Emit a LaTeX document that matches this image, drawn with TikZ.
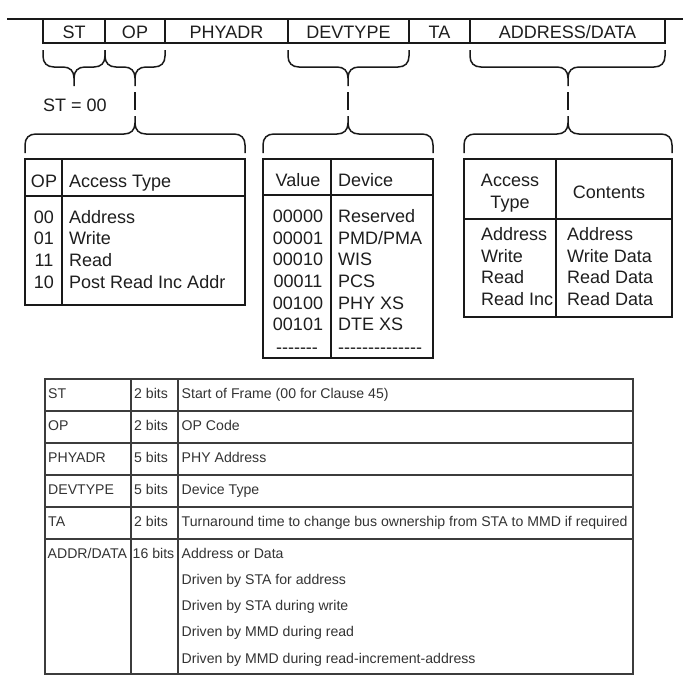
\documentclass[tikz,border=0pt]{standalone}
\usepackage{fontspec}
\setmainfont{Liberation Sans}
\definecolor{tline}{HTML}{3C3C3C}
\definecolor{ttext}{HTML}{333333}
\definecolor{dtext}{HTML}{1E1E1E}
\newcommand{\hy}{\mbox{-}}
\newcommand{\dnbrace}[3]{%
  \draw[brc] (#1,50) -- (#1,56) .. controls (#1,63) and ({#1+4},67) .. ({#1+11},67) -- ({#3-11},67) .. controls ({#3-4},67) and (#3,71) .. (#3,78) -- (#3,86);
  \draw[brc] (#2,50) -- (#2,56) .. controls (#2,63) and ({#2-4},67) .. ({#2-11},67) -- ({#3+11},67) .. controls ({#3+4},67) and (#3,71) .. (#3,78);}
\newcommand{\upbrace}[3]{%
  \draw[brc] (#3,92) -- (#3,110);
  \draw[brc] (#3,116) -- (#3,123) .. controls (#3,130) and ({#3-4},134) .. ({#3-11},134) -- ({#1+11},134) .. controls ({#1+4},134) and (#1,138) .. (#1,145) -- (#1,153);
  \draw[brc] (#3,123) .. controls (#3,130) and ({#3+4},134) .. ({#3+11},134) -- ({#2-11},134) .. controls ({#2-4},134) and (#2,138) .. (#2,145) -- (#2,153);}
\begin{document}
\begin{tikzpicture}[x=1pt,y=-1pt,
  big/.style={font=\fontsize{18}{21}\selectfont, inner sep=0pt, text=dtext, anchor=base},
  bigl/.style={big, anchor=base west},
  sm/.style={font=\fontsize{14.1}{17}\selectfont, inner sep=0pt, text=ttext, anchor=base west},
  frame/.style={line width=1.5pt, draw=black!90},
  brc/.style={line width=1.5pt, draw=black!90},
  tab/.style={line width=1.7pt, draw=black!90},
  btab/.style={line width=1.6pt, draw=tline}]
\useasboundingbox[fill=white] (0,0) rectangle (687,688);

% ---- frame fields ----
\draw[frame] (7,19) -- (683,19);
\draw[frame] (43,19) -- (43,43) -- (665,43) -- (665,19);
\foreach \xx in {105,165,288,409,470} \draw[frame] (\xx,19) -- (\xx,43);
\node[big] (fST) at (74,38.5) {ST};
\node[big] (fOP) at (135,38.5) {OP};
\node[big] (fPHY) at (226.5,38.5) {PHYADR};
\node[big] (fDEV) at (348.5,38.5) {DEVTYPE};
\node[big] (fTA) at (439.5,38.5) {TA};
\node[big] (fAD) at (567.5,38.5) {ADDRESS/DATA};

% ---- braces ----
\dnbrace{43}{105}{74}
\dnbrace{105}{165}{135}
\dnbrace{288}{409}{348}
\dnbrace{470}{665}{568}
\upbrace{25}{245}{135}
\upbrace{263}{433}{348}
\upbrace{464}{672}{568}
\node[bigl] (st00) at (43,111) {ST = 00};

% ---- table OP ----
\draw[tab] (25,159) rectangle (245,305);
\draw[tab] (25,196) -- (245,196);
\draw[tab] (62,159) -- (62,305);
\node[big] (h1a) at (44,187) {OP};
\node[bigl] (h1b) at (69,187) {Access Type};
\node[big] (r1a) at (44,223) {00}; \node[bigl] (r1b) at (69,223) {Address};
\node[big] (r2a) at (44,244.5) {01}; \node[bigl] (r2b) at (69,244.5) {Write};
\node[big] (r3a) at (44,266) {11}; \node[bigl] (r3b) at (69,266) {Read};
\node[big] (r4a) at (44,288) {10}; \node[bigl] (r4b) at (69,288) {Post Read Inc Addr};

% ---- table DEVTYPE ----
\draw[tab] (263,159) rectangle (433,358);
\draw[tab] (263,195) -- (433,195);
\draw[tab] (331,159) -- (331,358);
\node[big] (h2a) at (298,186) {Value};
\node[bigl] (h2b) at (338,186) {Device};
\node[big] (d1a) at (298,222) {00000}; \node[bigl] (d1b) at (338,222) {Reserved};
\node[big] (d2a) at (298,244) {00001}; \node[bigl] (d2b) at (338,244) {PMD/PMA};
\node[big] (d3a) at (298,265.5) {00010}; \node[bigl] (d3b) at (338,265.5) {WIS};
\node[big] (d4a) at (298,287) {00011}; \node[bigl] (d4b) at (338,287) {PCS};
\node[big] (d5a) at (298,309) {00100}; \node[bigl] (d5b) at (338,309) {PHY XS};
\node[big] (d6a) at (298,330) {00101}; \node[bigl] (d6b) at (338,330) {DTE XS};
\node[big] (d7a) at (297,353) {\hy\hy\hy\hy\hy\hy\hy};
\node[bigl] (d7b) at (338,353) {\hy\hy\hy\hy\hy\hy\hy\hy\hy\hy\hy\hy\hy\hy};

% ---- table ADDRESS/DATA ----
\draw[tab] (464,159) rectangle (672,317);
\draw[tab] (464,219) -- (672,219);
\draw[tab] (556,159) -- (556,317);
\node[big] (h3a) at (510,186) {Access};
\node[big] (h3c) at (510,208.5) {Type};
\node[big] (h3b) at (609,198) {Contents};
\node[bigl] (a1a) at (481,240) {Address}; \node[bigl] (a1b) at (567,240) {Address};
\node[bigl] (a2a) at (481,262) {Write}; \node[bigl] (a2b) at (567,262) {Write Data};
\node[bigl] (a3a) at (481,283.5) {Read}; \node[bigl] (a3b) at (567,283.5) {Read Data};
\node[bigl] (a4a) at (481,305.5) {Read Inc}; \node[bigl] (a4b) at (567,305.5) {Read Data};

% ---- bottom table ----
\draw[btab] (45,379) rectangle (633,674);
\foreach \yy in {411,443,475,507,539} \draw[btab] (45,\yy) -- (633,\yy);
\draw[btab] (131,379) -- (131,674);
\draw[btab] (178,379) -- (178,674);
\node[sm] (b1a) at (48,398) {ST};
\node[sm] (b1b) at (134,398) {2 bits};
\node[sm] (b1c) at (181.5,398) {Start of Frame (00 for Clause 45)};
\node[sm] (b2a) at (48,430) {OP};
\node[sm] (b2b) at (134,430) {2 bits};
\node[sm] (b2c) at (181.5,430) {OP Code};
\node[sm] (b3a) at (48,462) {PHYADR};
\node[sm] (b3b) at (134,462) {5 bits};
\node[sm] (b3c) at (181.5,462) {PHY Address};
\node[sm] (b4a) at (48,494) {DEVTYPE};
\node[sm] (b4b) at (134,494) {5 bits};
\node[sm] (b4c) at (181.5,494) {Device Type};
\node[sm] (b5a) at (48,526) {TA};
\node[sm] (b5b) at (134,526) {2 bits};
\node[sm] (b5c) at (181.5,526) {Turnaround time to change bus ownership from STA to MMD if required};
\node[sm] (b6a) at (47.5,558) {ADDR/DATA};
\node[sm] (b6b) at (132.5,558) {16 bits};
\node[sm] (b6c) at (181.5,558) {Address or Data};
\node[sm] (b6d) at (181.5,584) {Driven by STA for address};
\node[sm] (b6e) at (181.5,610) {Driven by STA during write};
\node[sm] (b6f) at (181.5,636.5) {Driven by MMD during read};
\node[sm] (b6g) at (181.5,663) {Driven by MMD during read-increment-address};
\end{tikzpicture}
\end{document}
